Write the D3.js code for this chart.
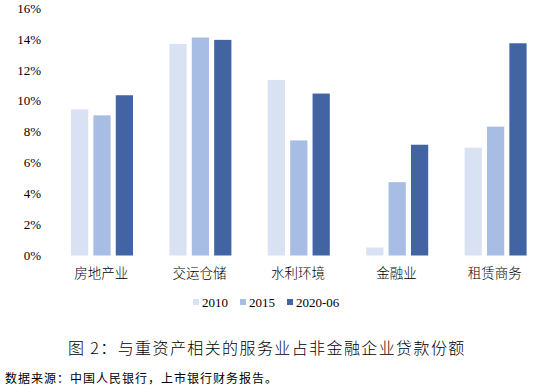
<!DOCTYPE html>
<html>
<head>
<meta charset="utf-8">
<script src="https://cdn.jsdelivr.net/npm/d3@7"></script>
<style>
  body { margin: 0; background: #fff; }
  svg { display: block; }
</style>
</head>
<body>
<div id="chart"></div>
<script>
// chart data
const categories = ['房地产业', '交运仓储', '水利环境', '金融业', '租赁商务'];
const seriesNames = ['2010', '2015', '2020-06'];
const values2010 = [9.45, 13.68, 11.35, 0.52, 6.97];
const values2015 = [9.06, 14.09, 7.44, 4.74, 8.33];
const values202006 = [10.36, 13.94, 10.47, 7.16, 13.72];
const yTicks = [0, 2, 4, 6, 8, 10, 12, 14, 16];
const colors = ['#d9e2f3', '#a8bde3', '#4264a3'];

const width = 556;
const height = 385;
const serifFont = '"Liberation Serif", "Times New Roman", serif';
const cjkFont = '"Noto Sans CJK SC", sans-serif';

const series = [values2010, values2015, values202006];

let svg = d3.select('#chart')
  .append('svg')
  .attr('width', width)
  .attr('height', height);

// scales
let x = d3.scaleBand()
  .domain(categories)
  .range([53, 545])
  .paddingInner(0)
  .paddingOuter(0);

let xInner = d3.scaleBand()
  .domain(seriesNames)
  .range([18, 80])
  .paddingInner(0.23);

let y = d3.scaleLinear()
  .domain([0, 16])
  .range([255.5, 8]);

// y axis (labels only, no line)
let yAxis = svg.append('g')
  .attr('transform', 'translate(41,0)')
  .call(d3.axisLeft(y).tickValues(yTicks).tickSize(0).tickPadding(0)
    .tickFormat(d => d + '%'));
yAxis.attr('font-family', null);
yAxis.select('.domain').remove();
yAxis.selectAll('text')
  .attr('font-family', serifFont)
  .attr('font-size', 13)
  .attr('fill', '#000');

// bars
let groups = svg.append('g')
  .selectAll('g')
  .data(categories)
  .join('g')
  .attr('transform', d => 'translate(' + x(d) + ',0)');

groups.selectAll('rect')
  .data((d, i) => seriesNames.map((s, j) => ({ s: s, v: series[j][i], j: j })))
  .join('rect')
  .attr('x', d => xInner(d.s))
  .attr('width', xInner.bandwidth())
  .attr('y', d => y(d.v))
  .attr('height', d => y(0) - y(d.v))
  .attr('fill', d => colors[d.j]);

// category labels
let xAxis = svg.append('g')
  .attr('transform', 'translate(0,' + y(0) + ')')
  .call(d3.axisBottom(x).tickSize(0).tickPadding(13));
xAxis.select('.domain').remove();
xAxis.selectAll('text')
  .style('font-family', cjkFont)
  .style('font-size', '13.5px')
  .style('font-weight', '300')
  .attr('fill', '#000')
  .attr('dx', '-1');

// legend
let legendX = [193, 240, 287];
let legend = svg.append('g')
  .selectAll('g')
  .data(seriesNames)
  .join('g')
  .attr('transform', (d, i) => 'translate(' + legendX[i] + ',302)');
legend.append('rect')
  .attr('x', 0)
  .attr('y', -3)
  .attr('width', 6)
  .attr('height', 6)
  .attr('fill', (d, i) => colors[i]);
legend.append('text')
  .attr('x', 9)
  .attr('y', 0)
  .attr('dominant-baseline', 'central')
  .attr('font-family', serifFont)
  .attr('font-size', 13)
  .text(d => d);

// title
svg.append('text')
  .attr('x', 68)
  .attr('y', 347)
  .attr('dominant-baseline', 'central')
  .style('font-family', cjkFont)
  .style('font-size', '16px')
  .style('font-weight', '300')
  .style('letter-spacing', '1.4px')
  .text('图 2：与重资产相关的服务业占非金融企业贷款份额');

// source note
svg.append('text')
  .attr('x', 5)
  .attr('y', 377)
  .attr('dominant-baseline', 'central')
  .style('font-family', cjkFont)
  .style('font-size', '12px')
  .style('letter-spacing', '1px')
  .text('数据来源：中国人民银行，上市银行财务报告。');
</script>
</body>
</html>
